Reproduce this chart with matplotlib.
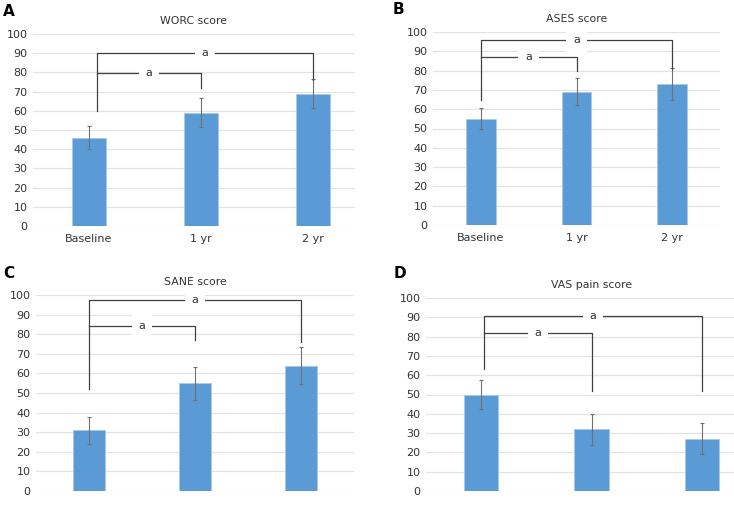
import numpy as np
import matplotlib.pyplot as plt

# data
groups = ['Baseline', '1 yr', '2 yr']
worc = [46, 59, 69]
worc_err = [6, 7.5, 7.5]
ases = [55, 69, 73]
ases_err = [5.5, 7, 8.3]
sane = [31, 55, 64]
sane_err = [6.8, 8.5, 9.3]
vas = [50, 32, 27]
vas_err = [7.3, 8, 8]

# brackets: (from, to, top, left bottom, right bottom)
worc_br = [(0, 2, 90, 60, 76), (0, 1, 79.5, 79, 72)]
ases_br = [(0, 2, 96, 65, 81), (0, 1, 87, 87, 80)]
sane_br = [(0, 2, 97.5, 52, 76), (0, 1, 84, 84, 77)]
vas_br = [(0, 2, 90.5, 63, 52), (0, 1, 82, 82, 52)]

blue = '#5b9bd5'
plt.rcParams['font.family'] = 'DejaVu Sans'

fig = plt.figure(figsize=(7.34, 5.15), dpi=100)
W, H = 734, 515


def add_ax(l, r, t, b):
    return fig.add_axes([l / W, 1 - b / H, (r - l) / W, (b - t) / H])


panels = [
    (add_ax(33, 355, 34, 226), worc, worc_err, worc_br, 'WORC score', 'A', True, (-0.5, 2.375), (0.07, 0.0)),
    (add_ax(433, 720, 32, 225), ases, ases_err, ases_br, 'ASES score', 'B', True, (-0.5, 2.5), (0.0, 0.0)),
    (add_ax(36, 354, 295, 491), sane, sane_err, sane_br, 'SANE score', 'C', False, (-0.5, 2.5), (0.0, 0.0)),
    (add_ax(426, 757, 298, 491), vas, vas_err, vas_br, 'VAS pain score', 'D', False, (-0.5, 2.5), (0.03, 0.0)),
]

x = np.arange(len(groups))
for ax, vals, err, brs, title, lab, show_x, xl, off in panels:
    ax.bar(x, vals, width=0.31, color=blue, edgecolor='#a9c8ec', linewidth=0.6, zorder=2)
    ax.errorbar(x, vals, yerr=err, fmt='none', ecolor='#707070', elinewidth=0.8,
                capsize=1.5, capthick=0.8, zorder=3)
    ax.set_ylim(0, 100)
    ax.set_xlim(*xl)
    ax.set_yticks(range(0, 101, 10))
    ax.grid(axis='y', color='#e3e3e3', linewidth=0.9, zorder=0)
    for s in ax.spines.values():
        s.set_visible(False)
    ax.tick_params(length=0, labelsize=8, colors='#333333', pad=4)
    ax.tick_params(axis='x', pad=6)
    ax.set_xticks(x)
    ax.set_xticklabels(groups if show_x else [''] * 3)
    ax.set_title(title, fontsize=7.8, color='#333333', pad=7)

    for i, j, top, lb, rb in brs:
        xi = i + off[0]
        xj = j + off[1]
        ax.plot([xi, xi, xj, xj], [lb, top, top, rb], color='#404040', lw=0.9, zorder=4)
        ax.text((xi + xj) / 2, top, 'a', ha='center', va='center', fontsize=8, color='#333333',
                bbox=dict(facecolor='white', edgecolor='none', pad=5), zorder=5)

fig.text(3 / W, 1 - 11 / H, 'A', fontsize=11, fontweight='bold', va='center')
fig.text(393 / W, 1 - 9 / H, 'B', fontsize=11, fontweight='bold', va='center')
fig.text(3 / W, 1 - 274 / H, 'C', fontsize=11, fontweight='bold', va='center')
fig.text(394 / W, 1 - 274 / H, 'D', fontsize=11, fontweight='bold', va='center')

fig.savefig('out.png', dpi=100)
